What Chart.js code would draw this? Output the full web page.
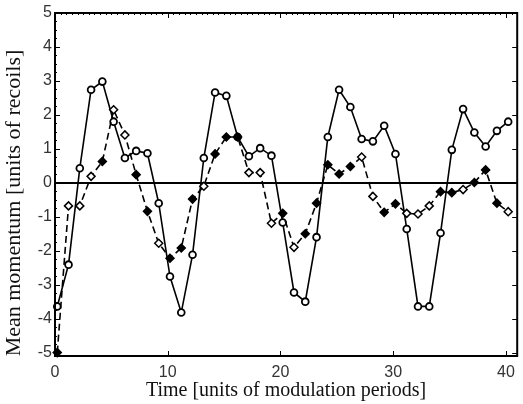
<!DOCTYPE html>
<html>
<head>
<meta charset="utf-8">
<script src="https://cdn.jsdelivr.net/npm/chart.js@4/dist/chart.umd.min.js"></script>
<style>
html,body{margin:0;padding:0;background:#fff;}
#wrap{width:523px;height:404px;}
</style>
</head>
<body>
<div id="wrap"><canvas id="c" width="523" height="404"></canvas></div>
<script>
// ---- data ----
const times = [0.2,1.2,2.2,3.2,4.2,5.2,6.2,7.2,8.2,9.2,10.2,11.2,12.2,13.2,14.2,15.2,16.2,17.2,18.2,19.2,20.2,
               21.2,22.2,23.2,24.2,25.2,26.2,27.2,28.2,29.2,30.2,31.2,32.2,33.2,34.2,35.2,36.2,37.2,38.2,39.2,40.2];
const solidSeries = [-3.64,-2.41,0.43,2.74,2.98,1.8,0.73,0.94,0.87,-0.6,-2.76,-3.82,-2.12,0.73,2.66,2.56,1.35,0.78,1.02,0.8,-1.17,
                     -3.23,-3.5,-1.6,1.35,2.74,2.23,1.29,1.22,1.68,0.85,-1.36,-3.64,-3.64,-1.48,0.97,2.17,1.48,1.07,1.53,1.8];
const dashedSeries = [-5.0,-0.68,-0.68,0.19,0.63,2.15,1.41,0.24,-0.84,-1.78,-2.22,-1.92,-0.48,-0.1,0.85,1.35,1.35,0.3,0.3,-1.19,-0.9,
                      -1.9,-1.5,-0.6,0.53,0.26,0.48,0.76,-0.4,-0.87,-0.62,-0.9,-0.92,-0.68,-0.26,-0.29,-0.2,0.01,0.38,-0.6,-0.85];
// 1 = filled diamond, 0 = open diamond
const dashedFilled = [1,0,0,0,1,0,0,1,1,0,1,1,1,0,1,1,1,0,0,0,1,
                      0,1,1,1,1,1,0,0,1,1,0,0,0,1,1,0,1,1,1,0];
const xTicks = [0,10,20,30,40];
const yTicks = [-5,-4,-3,-2,-1,0,1,2,3,4,5];
const xLabel = 'Time [units of modulation periods]';
const yLabel = 'Mean momentum [units of recoils]';

const solidPts = times.map((t,i)=>({x:t,y:solidSeries[i]}));
const dashedPts = times.map((t,i)=>({x:t,y:dashedSeries[i]}));

const framePlugin = {
  id:'frame',
  afterDraw(chart){
    const {ctx, chartArea:a, scales:{x,y}} = chart;
    ctx.save();
    ctx.strokeStyle='#000';
    ctx.lineWidth=1;
    ctx.beginPath();
    for(let v=0; v<=41; v+=0.5){
      const px = Math.round(x.getPixelForValue(v))+0.5;
      ctx.moveTo(px,a.top); ctx.lineTo(px,a.top+2);
    }
    for(let v=-5; v<=5.001; v+=0.25){
      const py = Math.round(y.getPixelForValue(v))+0.5;
      ctx.moveTo(a.left,py); ctx.lineTo(a.left+2,py);
    }
    ctx.stroke();
    ctx.beginPath();
    xTicks.forEach(v=>{
      const px = Math.round(x.getPixelForValue(v))+0.5;
      ctx.moveTo(px,a.bottom); ctx.lineTo(px,a.bottom-5);
      ctx.moveTo(px,a.top); ctx.lineTo(px,a.top+5);
    });
    yTicks.forEach(v=>{
      const py = Math.round(y.getPixelForValue(v))+0.5;
      ctx.moveTo(a.left,py); ctx.lineTo(a.left+5,py);
      ctx.moveTo(a.right,py); ctx.lineTo(a.right-5,py);
    });
    ctx.stroke();
    ctx.lineWidth=2;
    ctx.strokeRect(a.left,a.top,a.right-a.left,a.bottom-a.top);
    // y axis title
    ctx.fillStyle='#111';
    ctx.font='22px "Liberation Serif"';
    ctx.textAlign='center';
    ctx.textBaseline='middle';
    ctx.translate(14,203);
    ctx.rotate(-Math.PI/2);
    ctx.fillText(yLabel,0,0);
    ctx.restore();
  }
};

new Chart(document.getElementById('c'),{
  type:'line',
  data:{datasets:[
    {
      label:'dashed',
      data:dashedPts,
      borderColor:'#000',
      borderWidth:1.6,
      borderDash:[7,4],
      pointStyle:'rectRot',
      pointRadius:4,
      pointBorderWidth:1.5,
      pointBorderColor:'#000',
      pointBackgroundColor:dashedFilled.map(f=>f?'#000':'#fff'),
      tension:0,
      clip:false
    },
    {
      label:'solid',
      data:solidPts,
      borderColor:'#000',
      borderWidth:1.6,
      pointStyle:'circle',
      pointRadius:3.4,
      pointBorderWidth:1.8,
      pointBorderColor:'#000',
      pointBackgroundColor:'#fff',
      tension:0,
      clip:false
    }
  ]},
  options:{
    responsive:false,
    animation:false,
    events:[],
    layout:{padding:{left:0,right:3,top:13,bottom:0}},
    plugins:{legend:{display:false},tooltip:{enabled:false}},
    scales:{
      x:{
        type:'linear',min:0,max:41,
        afterBuildTicks(s){ s.ticks = xTicks.map(v=>({value:v})); },
        afterFit(s){ s.height = 48; },
        grid:{display:false,drawTicks:false},
        border:{display:false},
        ticks:{padding:7,color:'#333',font:{family:'Liberation Sans',size:16},maxRotation:0,autoSkip:false},
        title:{display:true,text:xLabel,color:'#111',font:{family:'Liberation Serif',size:20},padding:{top:0,bottom:1}}
      },
      y:{
        type:'linear',min:-5.1,max:5,
        afterBuildTicks(s){ s.ticks = yTicks.map(v=>({value:v})); },
        afterFit(s){ s.width = 55; },
        grid:{drawTicks:false,
              color:c=>c.tick && c.tick.value===0 ? '#000' : 'rgba(0,0,0,0)',
              lineWidth:c=>c.tick && c.tick.value===0 ? 2 : 0},
        border:{display:false},
        ticks:{padding:3,color:'#333',font:{family:'Liberation Sans',size:16},autoSkip:false},
        title:{display:false}
      }
    }
  },
  plugins:[framePlugin]
});
</script>
</body>
</html>
